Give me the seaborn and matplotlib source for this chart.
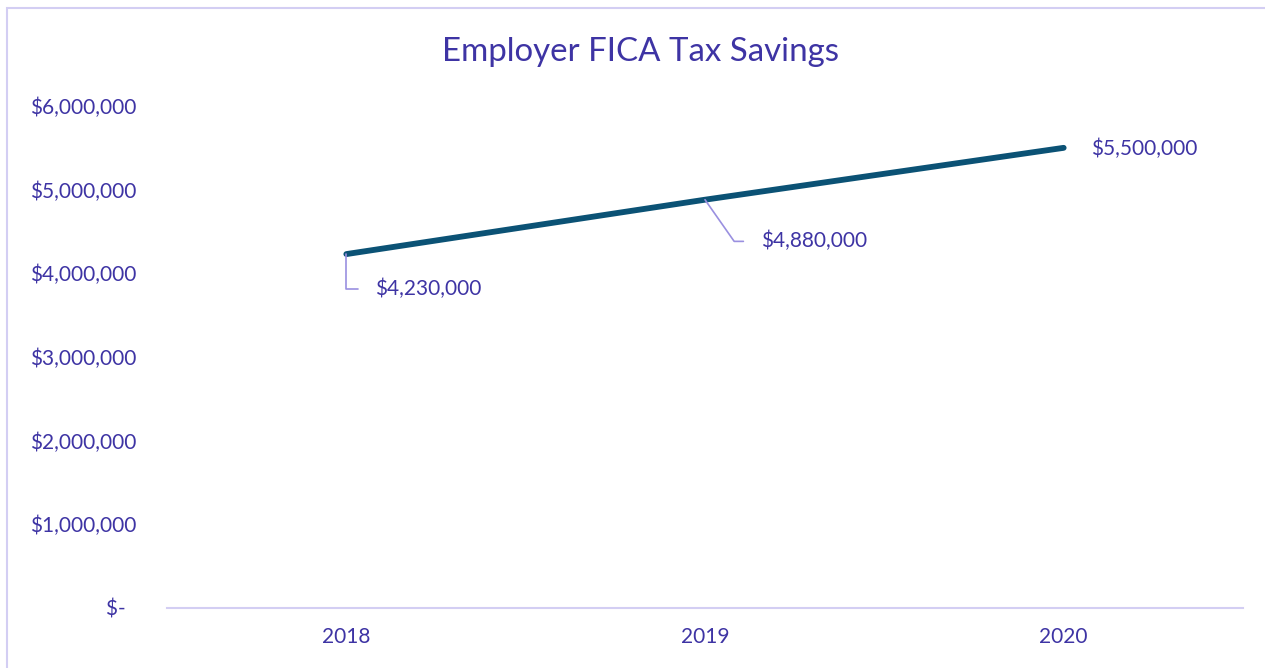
import matplotlib
matplotlib.use("Agg")
import matplotlib.pyplot as plt
from matplotlib.patches import Rectangle
import seaborn as sns
import pandas as pd

# Employer FICA tax savings by year
years = ["2018", "2019", "2020"]
savings = [4230000, 4880000, 5500000]
y_ticks = [0, 1000000, 2000000, 3000000, 4000000, 5000000, 6000000]
y_tick_labels = ["$-  ", "$1,000,000", "$2,000,000", "$3,000,000",
                 "$4,000,000", "$5,000,000", "$6,000,000"]
value_labels = ["$4,230,000", "$4,880,000", "$5,500,000"]

TEXT = "#3E34A4"
LINE = "#0B5275"
LEADER = "#9A90E0"
AXIS = "#D3CEF3"

sns.set_theme(style="white")
plt.rcParams["font.family"] = ["Lato", "DejaVu Sans"]

df = pd.DataFrame({"year": years, "savings": savings})

W, H = 1265, 668
fig = plt.figure(figsize=(W / 100, H / 100), dpi=100)
ax = fig.add_axes([167 / W, 1 - 608 / H, (1243 - 167) / W, (608 - 106) / H])

sns.lineplot(data=df, x="year", y="savings", ax=ax, color=LINE,
             linewidth=4.2, solid_capstyle="round", sort=False)

ax.set_xlim(-0.5, 2.5)
ax.set_ylim(0, 6000000)
ax.set_yticks(y_ticks)
ax.set_yticklabels(y_tick_labels)
ax.set_xlabel("")
ax.set_ylabel("")
ax.tick_params(axis="y", length=0, pad=22, labelsize=15, labelcolor=TEXT)
ax.tick_params(axis="x", length=0, pad=14, labelsize=15, labelcolor=TEXT)

for side in ["top", "right", "left"]:
    ax.spines[side].set_visible(False)
ax.spines["bottom"].set_color(AXIS)
ax.spines["bottom"].set_linewidth(1.5)

# Data labels with leader lines
ax.annotate(value_labels[0], xy=(0, savings[0]), xytext=(21, -25),
            textcoords="offset points", ha="left", va="center",
            fontsize=15, color=TEXT,
            arrowprops=dict(arrowstyle="-", color=LEADER, lw=1.2,
                            relpos=(0, 0.5), shrinkA=10, shrinkB=0,
                            connectionstyle="angle,angleA=0,angleB=90,rad=0"))
ax.annotate(value_labels[1], xy=(1, savings[1]), xytext=(40, -30),
            textcoords="offset points", ha="left", va="center",
            fontsize=15, color=TEXT,
            arrowprops=dict(arrowstyle="-", color=LEADER, lw=1.2,
                            relpos=(0, 0.5), shrinkA=10, shrinkB=0,
                            connectionstyle="angle,angleA=0,angleB=-55,rad=0"))
ax.annotate(value_labels[2], xy=(2, savings[2]), xytext=(20, -1),
            textcoords="offset points", ha="left", va="center",
            fontsize=15, color=TEXT)

fig.text(640 / W, 1 - 52 / H, "Employer FICA Tax Savings", ha="center",
         va="center", fontsize=23.8, color=TEXT)

# Chart area frame
fig.add_artist(Rectangle((7 / W, -0.2), 1.2, 1.2 - 8 / H,
                         transform=fig.transFigure, fill=False,
                         edgecolor=AXIS, linewidth=1.5))

fig.savefig("out.png", dpi=100)
